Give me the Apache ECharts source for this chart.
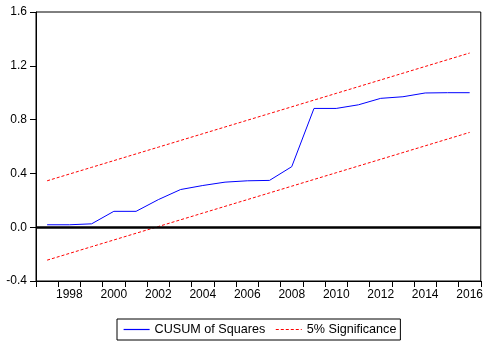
<!DOCTYPE html>
<html>
<head>
<meta charset="utf-8">
<script src="https://cdn.jsdelivr.net/npm/echarts@6/dist/echarts.min.js"></script>
<style>
html,body{margin:0;padding:0;background:#fff;}
#c{width:486px;height:344px;}
</style>
</head>
<body>
<div id="c"></div>
<script>
var years = ['1997','1998','1999','2000','2001','2002','2003','2004','2005','2006','2007','2008','2009','2010','2011','2012','2013','2014','2015','2016'];
var cusumSq = [0.018,0.018,0.025,0.118,0.118,0.205,0.28,0.31,0.335,0.345,0.348,0.45,0.883,0.883,0.91,0.958,0.97,0.998,1.0,1.0];
var upper5 = [0.345,0.395,0.445,0.495,0.545,0.595,0.645,0.695,0.745,0.795,0.845,0.895,0.945,0.995,1.045,1.095,1.145,1.195,1.245,1.295];
var lower5 = [-0.245,-0.195,-0.145,-0.095,-0.045,0.005,0.055,0.105,0.155,0.205,0.255,0.305,0.355,0.405,0.455,0.505,0.555,0.605,0.655,0.705];
var yTicks = {min:-0.4, max:1.6, interval:0.4};

var font = 'Liberation Sans, Arial, sans-serif';
var chart = echarts.init(document.getElementById('c'), null, {renderer:'canvas'});
chart.setOption({
  animation:false,
  grid:{left:36, right:5, top:12, bottom:63, show:true, borderColor:'#000', borderWidth:1, backgroundColor:'transparent'},
  legend:{
    left:117, top:319,
    data:['CUSUM of Squares','5% Significance'],
    itemWidth:26, itemHeight:11, itemGap:10,
    itemStyle:{opacity:0},
    lineStyle:{width:1.2},
    padding:[4,4,4,6],
    borderColor:'#000', borderWidth:1,
    textStyle:{fontFamily:font, fontSize:12.6, color:'#000'}
  },
  xAxis:{
    type:'category', data:years, boundaryGap:true,
    axisLine:{onZero:false, lineStyle:{color:'#000', width:1}},
    axisTick:{show:true, interval:0, length:6, lineStyle:{color:'#000'}},
    axisLabel:{interval:function(i){return i%2===1;}, margin:8, color:'#000', fontFamily:font, fontSize:12},
    splitLine:{show:false}
  },
  yAxis:{
    type:'value', min:yTicks.min, max:yTicks.max, interval:yTicks.interval,
    axisLine:{show:true, onZero:false, lineStyle:{color:'#000', width:1}},
    axisTick:{show:true, length:6, lineStyle:{color:'#000'}},
    axisLabel:{margin:9, color:'#000', fontFamily:font, fontSize:12, formatter:function(v){return v.toFixed(1);}},
    splitLine:{show:false}
  },
  series:[
    {name:'CUSUM of Squares', type:'line', data:cusumSq, symbol:'none', lineStyle:{color:'#0000ff', width:1}, itemStyle:{color:'#0000ff'},
     markLine:{silent:true, symbol:'none', label:{show:false}, lineStyle:{color:'#000', width:2.5, type:'solid'}, data:[{yAxis:0}]}},
    {name:'5% Significance', type:'line', data:upper5, symbol:'none', lineStyle:{color:'#ff0000', width:1, type:[3,2]}, itemStyle:{color:'#ff0000'}},
    {name:'5% Significance', type:'line', data:lower5, symbol:'none', lineStyle:{color:'#ff0000', width:1, type:[3,2]}, itemStyle:{color:'#ff0000'}}
  ]
});
</script>
</body>
</html>
